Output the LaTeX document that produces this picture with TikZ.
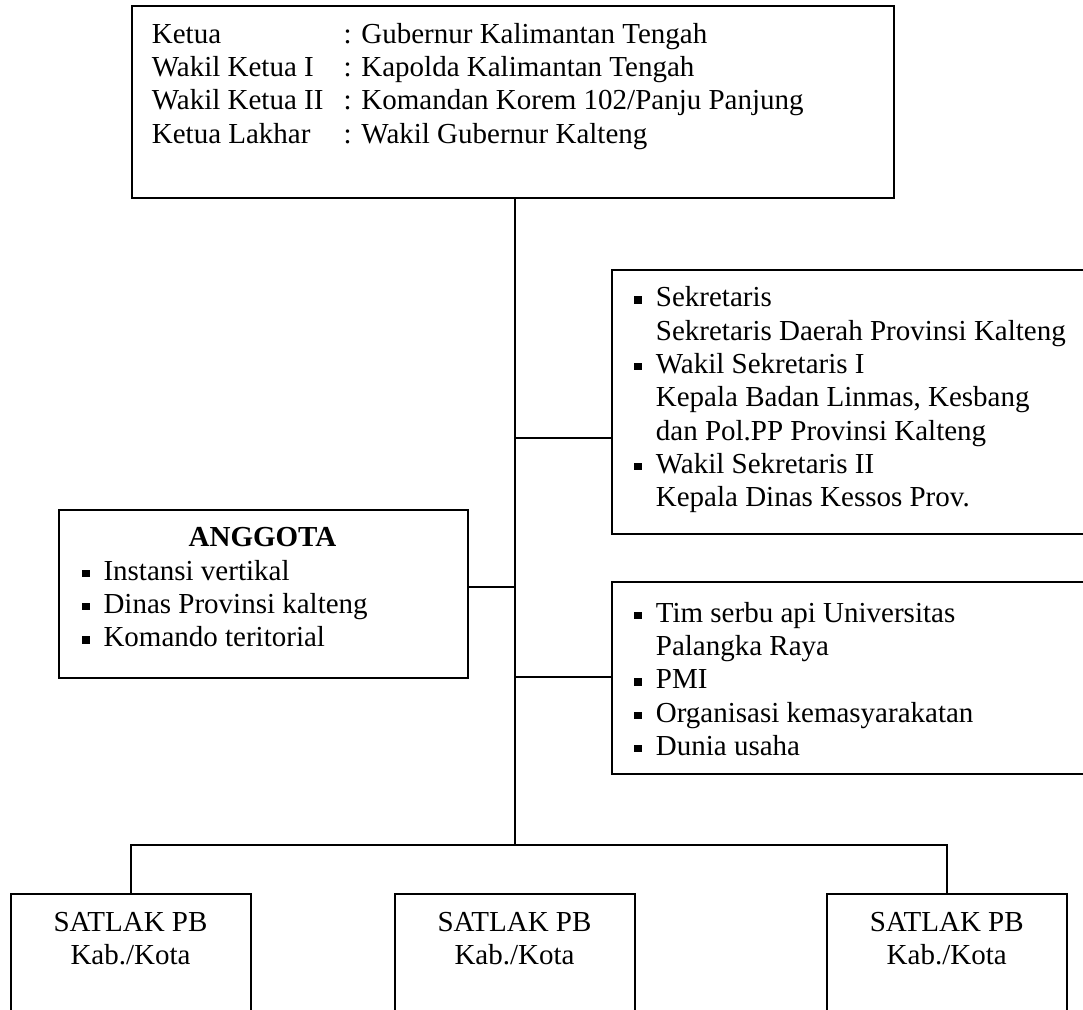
\documentclass[tikz,border=0pt]{standalone}
\usepackage{fontspec}
\setmainfont{Liberation Serif}
% small square bullet hanging to the left of an item
\newcommand\sqbullet{\llap{\rule[3pt]{8.5pt}{7.5pt}\hspace{13.5pt}}}
\begin{document}
\begin{tikzpicture}[x=1pt,y=-1pt,
  every node/.style={font=\fontsize{29}{33.3}\selectfont},
  box/.style={draw, line width=2pt, rectangle, anchor=north west, inner sep=0pt},
  txt/.style={anchor=base west, inner sep=0pt},
  ctxt/.style={anchor=base, inner sep=0pt},
  link/.style={line width=2pt}]
\useasboundingbox (0,0) rectangle (1083,1009);
\clip (0,0) rectangle (1083,1009);

% ---- chair box ----
\node[box, minimum width=762.5pt, minimum height=192pt] (ketua) at (130.5,4.7) {};
\foreach \lab/\val [count=\i from 0] in
  {Ketua/{: Gubernur Kalimantan Tengah},
   Wakil Ketua I/{: Kapolda Kalimantan Tengah},
   Wakil Ketua II/{: Komandan Korem 102/Panju Panjung},
   Ketua Lakhar/{: Wakil Gubernur Kalteng}}
{
  \node[txt] (kl-\i) at (151.7, 43.3+33.33*\i) {\lab};
  \node[txt] (kv-\i) at (343.5, 43.3+33.33*\i) {\val};
}

% ---- secretariat box ----
\node[box, minimum width=480pt, minimum height=264.3pt] (sek) at (610.7,269) {};
\foreach \t [count=\i from 0] in
  {{\sqbullet Sekretaris},
   {Sekretaris Daerah Provinsi Kalteng},
   {\sqbullet Wakil Sekretaris I},
   {Kepala Badan Linmas, Kesbang},
   {dan Pol.PP Provinsi Kalteng},
   {\sqbullet Wakil Sekretaris II},
   {Kepala Dinas Kessos Prov.}}
{
  \node[txt] (sek-\i) at (655.7, 306.7+33.33*\i) {\t};
}

% ---- members box ----
\node[box, minimum width=408.4pt, minimum height=167.7pt] (anggota) at (58.3,509) {};
\node[ctxt] (ang-title) at (262.5,546.7) {\textbf{ANGGOTA}};
\foreach \t [count=\i from 0] in
  {Instansi vertikal, Dinas Provinsi kalteng, Komando teritorial}
{
  \node[txt] (ang-\i) at (103.3, 580+33.33*\i) {\sqbullet\t};
}

% ---- supporting organisations box ----
\node[box, minimum width=480pt, minimum height=192pt] (tim) at (610.7,580.7) {};
\foreach \t [count=\i from 0] in
  {{\sqbullet Tim serbu api Universitas},
   {Palangka Raya},
   {\sqbullet PMI},
   {\sqbullet Organisasi kemasyarakatan},
   {\sqbullet Dunia usaha}}
{
  \node[txt] (tim-\i) at (655.7, 622+33.33*\i) {\t};
}

% ---- district task units ----
\foreach \cx [count=\i] in {130.5, 514.5, 946.7}
{
  \node[box, anchor=north, minimum width=240pt, minimum height=140pt] (satlak-\i) at (\cx,892.7) {};
  \node[ctxt] (satlak-\i-a) at (\cx,931) {SATLAK PB};
  \node[ctxt] (satlak-\i-b) at (\cx,964.3) {Kab./Kota};
}

% ---- connectors ----
\coordinate (bus) at (514.5,845);
\coordinate (jsek) at (514.5,438.3);
\coordinate (jang) at (514.5,587.3);
\coordinate (jtim) at (514.5,676.7);
\coordinate (busL) at (satlak-1.north |- bus);
\coordinate (busR) at (satlak-3.north |- bus);

\draw[link] (ketua.south -| bus) -- (bus);
\draw[link] (jsek) -- (jsek -| sek.west);
\draw[link] (jang) -- (jang -| anggota.east);
\draw[link] (jtim) -- (jtim -| tim.west);
\draw[link] (satlak-1.north) -- (busL) -- (busR) -- (satlak-3.north);
\end{tikzpicture}
\end{document}
